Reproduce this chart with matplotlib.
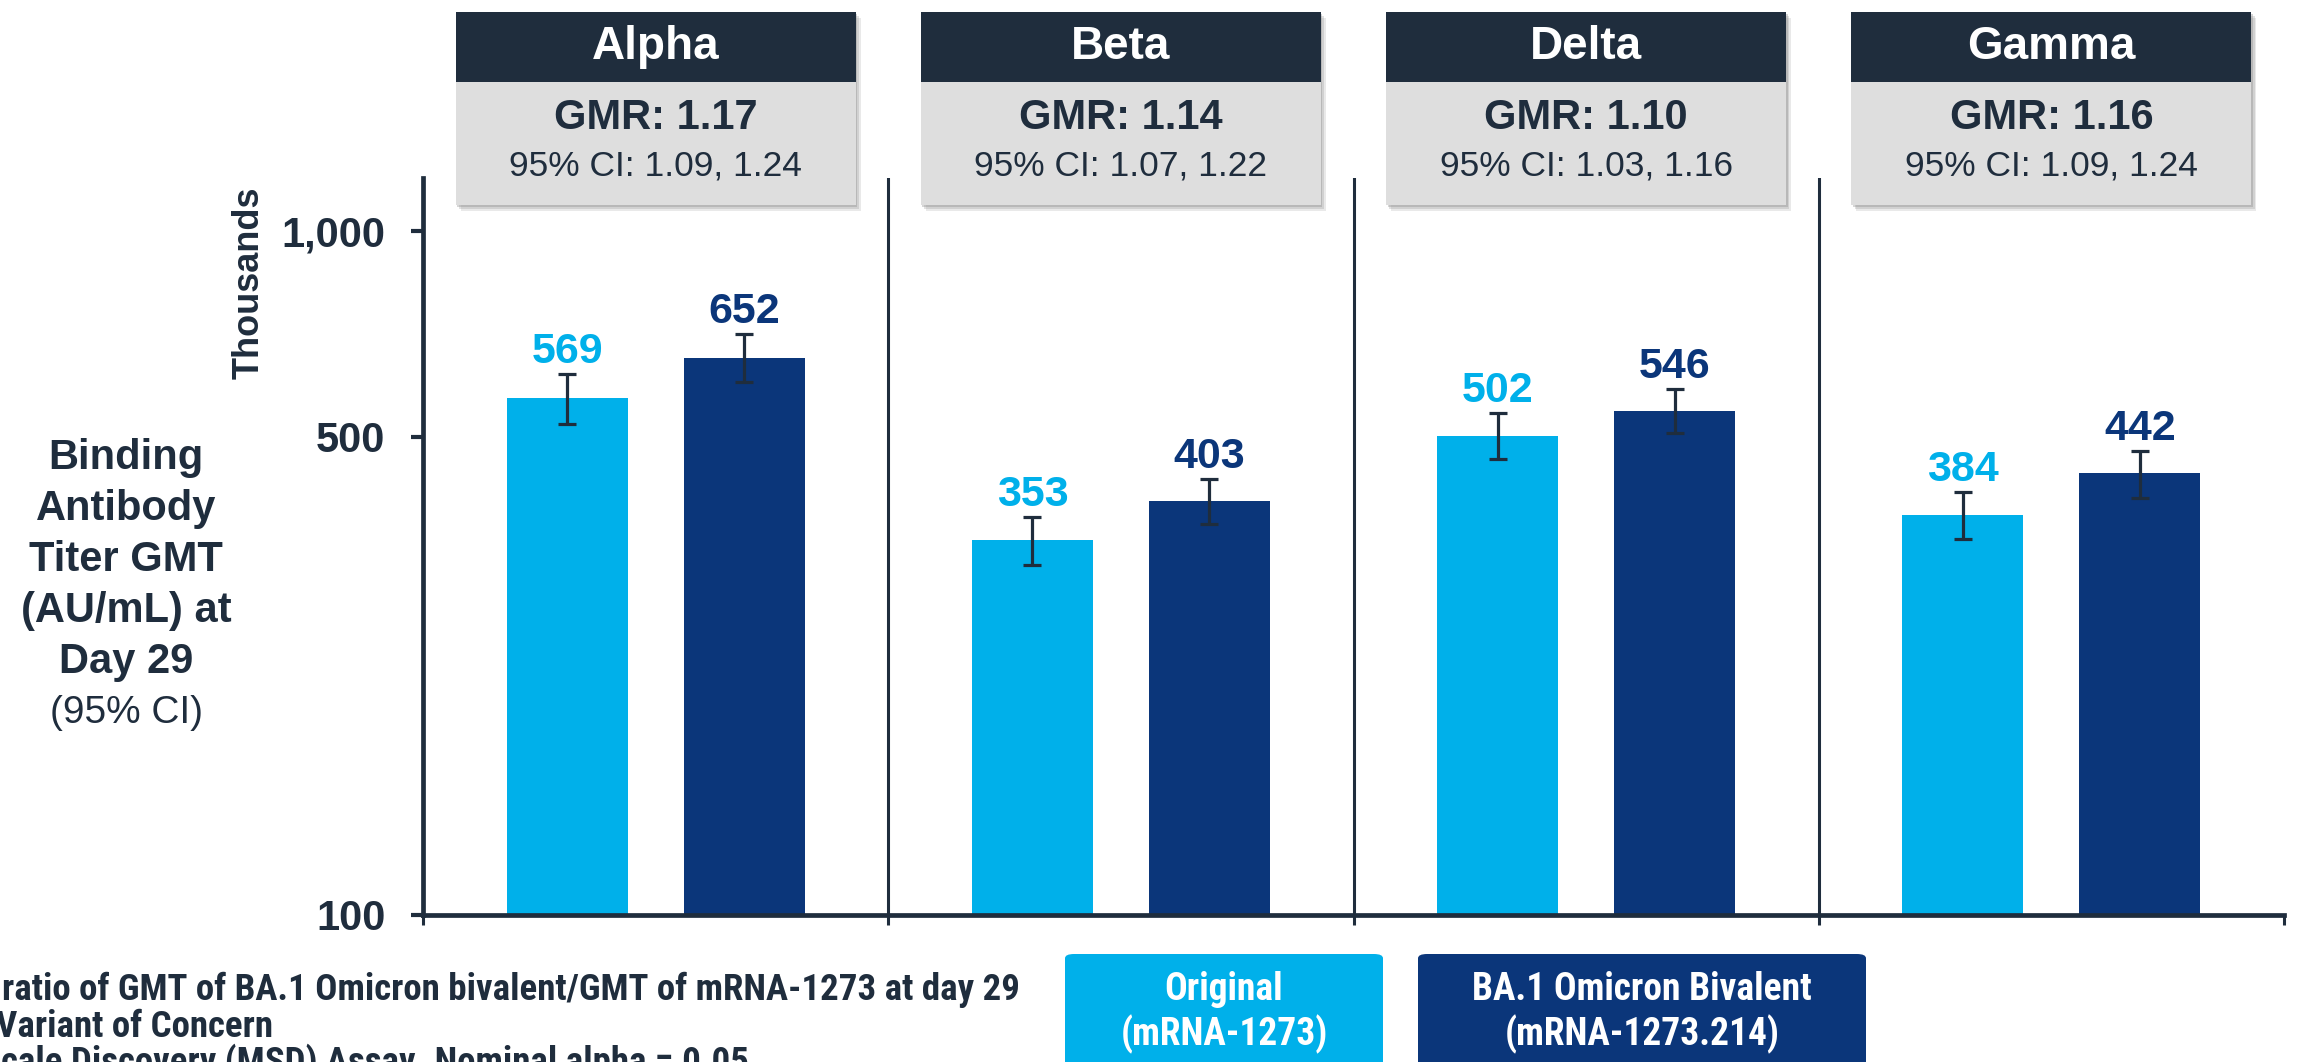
import numpy as np
import matplotlib
matplotlib.use("Agg")
import matplotlib.pyplot as plt
import matplotlib.transforms as mtransforms
from matplotlib import font_manager
from matplotlib.patches import Rectangle, FancyBboxPatch

# ---- data ----
variants = ["Alpha", "Beta", "Delta", "Gamma"]
gmt_orig = [569, 353, 502, 384]
gmt_biv = [652, 403, 546, 442]
orig_lo = [522, 325, 464, 355]
orig_hi = [618, 382, 542, 415]
biv_lo = [601, 373, 507, 407]
biv_hi = [707, 434, 587, 477]
gmr = ["1.17", "1.14", "1.10", "1.16"]
gmr_ci = ["1.09, 1.24", "1.07, 1.22", "1.03, 1.16", "1.09, 1.24"]
yticks = [100, 500, 1000]
ytick_labels = ["100", "500", "1,000"]

# ---- style ----
DARK = "#1F2D3D"
LIGHT_BLUE = "#00B0EA"
NAVY = "#0B367A"
GREY_BOX = "#DEDEDE"

installed = {f.name for f in font_manager.fontManager.ttflist}
FONT = "Liberation Sans"
NARROW = FONT
for cand in ["Liberation Sans Narrow", "Roboto Condensed", "Open Sans Condensed"]:
    if cand in installed:
        NARROW = cand
        break
plt.rcParams["font.family"] = [FONT, "DejaVu Sans"]

W, H = 2297, 1062
fig = plt.figure(figsize=(W / 100, H / 100), dpi=100)
ax = fig.add_axes([423 / W, 1 - 915 / H, (2284 - 423) / W, (915 - 178) / H])

x = np.arange(len(variants))
off, bw = 0.19, 0.26

ax.bar(x - off, gmt_orig, width=bw, color=LIGHT_BLUE, zorder=2)
ax.bar(x + off, gmt_biv, width=bw, color=NAVY, zorder=2)

g_o = np.array(gmt_orig)
g_b = np.array(gmt_biv)
ax.errorbar(x - off, g_o, yerr=[g_o - np.array(orig_lo), np.array(orig_hi) - g_o],
            fmt="none", ecolor=DARK, elinewidth=2.3, capsize=6.5, capthick=2.3, zorder=3)
ax.errorbar(x + off, g_b, yerr=[g_b - np.array(biv_lo), np.array(biv_hi) - g_b],
            fmt="none", ecolor=DARK, elinewidth=2.3, capsize=6.5, capthick=2.3, zorder=3)

for i in range(len(variants)):
    ax.annotate(str(gmt_orig[i]), (x[i] - off, orig_hi[i]), xytext=(0, 8),
                textcoords="offset points", ha="center", va="baseline",
                fontsize=31, fontweight="bold", color=LIGHT_BLUE)
    ax.annotate(str(gmt_biv[i]), (x[i] + off, biv_hi[i]), xytext=(0, 8),
                textcoords="offset points", ha="center", va="baseline",
                fontsize=31, fontweight="bold", color=NAVY)

ax.set_yscale("log")
ax.set_ylim(100, 1195)
ax.set_xlim(-0.5, 3.5)
ax.set_yticks(yticks)
ax.set_yticklabels(ytick_labels, fontsize=30, fontweight="bold", color=DARK)
ax.yaxis.set_minor_locator(matplotlib.ticker.NullLocator())
ax.tick_params(axis="y", length=9, width=3, color=DARK, pad=18)
ax.set_xticks(np.arange(-0.5, 3.6, 1.0))
ax.set_xticklabels([])
ax.tick_params(axis="x", length=7, width=2.2, color=DARK)

for s in ["top", "right"]:
    ax.spines[s].set_visible(False)
for s in ["left", "bottom"]:
    ax.spines[s].set_linewidth(3.4)
    ax.spines[s].set_color(DARK)

# group separators
for b in [0.5, 1.5, 2.5]:
    ax.axvline(b, color=DARK, lw=2.2, zorder=1)

# ---- variant headers ----
blend = mtransforms.blended_transform_factory(ax.transData, fig.transFigure)
half = 0.43
y_dark_top, y_dark_bot, y_grey_bot = 1 - 12 / H, 1 - 82 / H, 1 - 205 / H
sx, sy = 5 / 465.25, 6 / H
for i, name in enumerate(variants):
    for k, a in enumerate([0.18, 0.25, 0.35]):
        d = 1 - k * 0.35
        ax.add_patch(Rectangle((i - half + sx * d, y_grey_bot - sy * d), 2 * half,
                               y_dark_top - y_grey_bot, transform=blend,
                               color="#8a8a8a", alpha=a, lw=0, clip_on=False, zorder=4))
    ax.add_patch(Rectangle((i - half, y_grey_bot), 2 * half, y_dark_bot - y_grey_bot,
                           transform=blend, color=GREY_BOX, lw=0, clip_on=False, zorder=5))
    ax.add_patch(Rectangle((i - half, y_dark_bot), 2 * half, y_dark_top - y_dark_bot,
                           transform=blend, color=DARK, lw=0, clip_on=False, zorder=6))
    ax.text(i, 1 - 47 / H, name, transform=blend, ha="center", va="center",
            fontsize=33, fontweight="bold", color="white", zorder=7)
    ax.text(i, 1 - 118 / H, "GMR: " + gmr[i], transform=blend, ha="center", va="center",
            fontsize=30, fontweight="bold", color=DARK, zorder=7)
    ax.text(i, 1 - 166 / H, "95% CI: " + gmr_ci[i], transform=blend, ha="center",
            va="center", fontsize=25.5, color=DARK, zorder=7)

# ---- axis titles ----
fig.text(249 / W, 1 - 283 / H, "Thousands", rotation=90, ha="center", va="center",
         fontsize=26, fontweight="bold", color=DARK)
ylab_lines = ["Binding", "Antibody", "Titer GMT", "(AU/mL) at", "Day 29"]
for k, line in enumerate(ylab_lines):
    fig.text(126 / W, 1 - (458 + 51 * k) / H, line, ha="center", va="center",
             fontsize=30, fontweight="bold", color=DARK)
fig.text(126 / W, 1 - (458 + 51 * 5) / H, "(95% CI)", ha="center", va="center",
         fontsize=28, color=DARK)

# ---- footnotes (cut off at the page edge) ----
notes = ["ratio of GMT of BA.1 Omicron bivalent/GMT of mRNA-1273 at day 29",
         "Variant of Concern",
         "cale Discovery (MSD) Assay. Nominal alpha = 0.05"]
note_x = [2, -4, 1]
note_y = [990, 1027, 1062]
for t, nx, ny in zip(notes, note_x, note_y):
    fig.text(nx / W, 1 - ny / H, t, ha="left", va="center", fontsize=26.6,
             fontweight="bold", color=DARK, family=[NARROW, FONT])

# ---- legend boxes ----
legend_boxes = [(1065, 1383, LIGHT_BLUE, ["Original", "(mRNA-1273)"]),
                (1418, 1866, NAVY, ["BA.1 Omicron Bivalent", "(mRNA-1273.214)"])]
for x0, x1, col, lines in legend_boxes:
    fig.patches.append(FancyBboxPatch((x0 / W, 1 - 1080 / H), (x1 - x0) / W, (1080 - 954) / H,
                                      boxstyle="round,pad=0,rounding_size=0.004",
                                      transform=fig.transFigure, color=col, lw=0))
    for k, line in enumerate(lines):
        fig.text((x0 + x1) / 2 / W, 1 - (990 + 44 * k) / H, line, ha="center", va="center",
                 fontsize=27, fontweight="bold", color="white", family=[NARROW, FONT])

fig.savefig("out.png", dpi=100)
